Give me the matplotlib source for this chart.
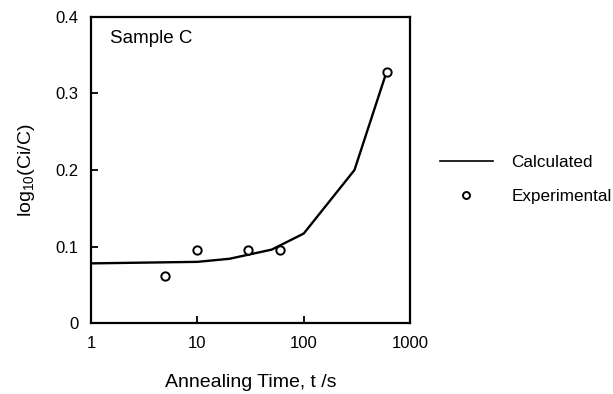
import matplotlib
matplotlib.use('Agg')
import matplotlib.pyplot as plt
from matplotlib.lines import Line2D

plt.rcParams['font.family'] = ['Liberation Sans', 'DejaVu Sans']
plt.rcParams['mathtext.fontset'] = 'custom'
plt.rcParams['mathtext.rm'] = 'Liberation Sans'
plt.rcParams['mathtext.it'] = 'Liberation Sans'

# calculated curve
calc_t = [1, 10, 20, 50, 100, 300, 600]
calc_y = [0.078, 0.080, 0.084, 0.096, 0.117, 0.200, 0.328]

# experimental points
exp_t = [5, 10, 30, 60, 600]
exp_y = [0.061, 0.096, 0.096, 0.095, 0.328]

xticks = [1, 10, 100, 1000]
xticklabels = ['1', '10', '100', '1000']
yticks = [0, 0.1, 0.2, 0.3, 0.4]
yticklabels = ['0', '0.1', '0.2', '0.3', '0.4']

fig = plt.figure(figsize=(6.13, 3.94), dpi=100)
ax = fig.add_axes([0.1485, 0.180, 0.5205, 0.777])

ax.plot(calc_t, calc_y, color='black', lw=1.7)
ax.plot(exp_t, exp_y, 'o', mfc='white', mec='black', mew=1.4, ms=6)

ax.set_xscale('log')
ax.set_xlim(1, 1000)
ax.set_ylim(0, 0.4)
ax.set_xticks(xticks)
ax.set_xticklabels(xticklabels)
ax.minorticks_off()
ax.set_yticks(yticks)
ax.set_yticklabels(yticklabels)
ax.tick_params(direction='in', length=5, width=1.3, labelsize=12, pad=9)
for s in ax.spines.values():
    s.set_linewidth(1.6)

ax.set_xlabel('Annealing Time, t /s', fontsize=14, labelpad=17)
ax.set_ylabel(r'log$_{10}$(Ci/C)', fontsize=14, labelpad=13)
ax.text(0.06, 0.93, 'Sample C', transform=ax.transAxes, fontsize=13.5, va='center')

handles = [Line2D([], [], color='black', lw=1.2),
           Line2D([], [], ls='none', marker='o', mfc='white', mec='black', mew=1.4, ms=5)]
fig.legend(handles, ['Calculated', 'Experimental'], loc='center left',
           bbox_to_anchor=(0.692, 0.545), frameon=False, fontsize=12.3,
           handlelength=3.1, handletextpad=1.1, labelspacing=1.1)

fig.savefig('out.png', dpi=100)
